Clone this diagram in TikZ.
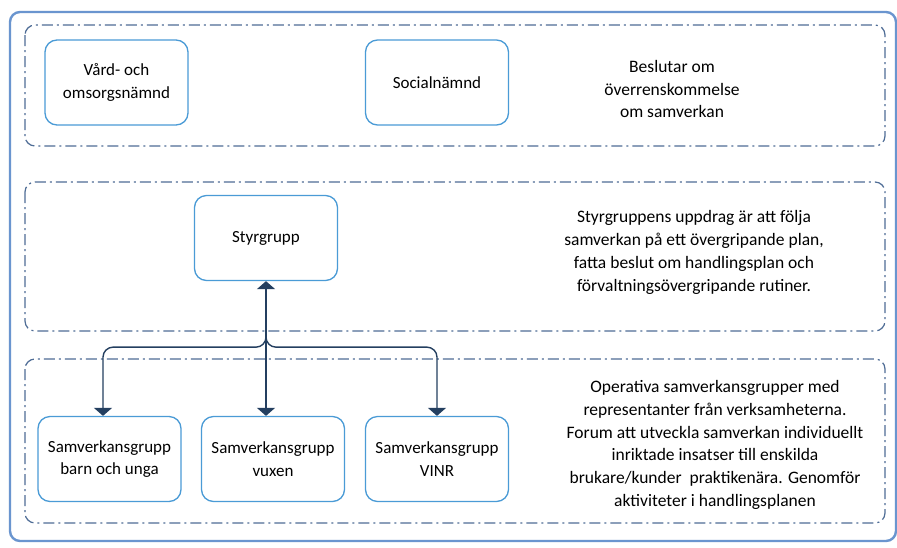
\documentclass[tikz,border=0pt]{standalone}
\usepackage{fontspec}
\setmainfont{Carlito}
\usetikzlibrary{arrows.meta,calc}
\definecolor{nodeblue}{HTML}{4A9BD6}
\definecolor{dashblue}{HTML}{4F6D96}
\definecolor{outerblue}{HTML}{6A95CF}
\definecolor{arrownavy}{HTML}{243F60}
\tikzset{
  unitbox/.style={draw=nodeblue, line width=1.3pt, rounded corners=12pt, fill=white,
    minimum width=143pt, minimum height=85pt, align=center, inner sep=2pt,
    font=\fontsize{17}{22.5}\selectfont},
  grpbox/.style={draw=dashblue, line width=1.2pt, rounded corners=10pt,
    dash pattern=on 11pt off 4pt on 2pt off 4pt},
  desc/.style={align=center, font=\fontsize{17.5}{22.8}\selectfont},
  conn/.style={draw=arrownavy, line width=1.4pt},
  tip/.style={-{Triangle[width=18pt,length=8pt]}},
}
\begin{document}
\begin{tikzpicture}[x=1pt,y=-1pt]
\useasboundingbox (0,0) rectangle (897,547);
\fill[white] (0,0) rectangle (897,547);
% outer frame
\draw[draw=outerblue, line width=2.4pt, rounded corners=10pt] (10,12) rectangle (896,541);
% group frames
\draw[grpbox] (25,25) rectangle (885,146);
\draw[grpbox] (25,182) rectangle (885,331);
\draw[grpbox] (25,359) rectangle (885,523);
% top row
\node[unitbox] (vard) at (116.5,82.5) {Vård- och\\omsorgsnämnd};
\node[unitbox] (social) at (437,82.5) {Socialnämnd};
\node[desc] (beslut) at (672,89) {Beslutar om\\överrenskommelse\\om samverkan};
% middle row
\node[unitbox] (styr) at (266,238) {Styrgrupp};
\node[desc] (styrtext) at (694,252.5) {Styrgruppens uppdrag är att följa\\samverkan på ett övergripande plan,\\fatta beslut om handlingsplan och\\förvaltningsövergripande rutiner.};
% bottom row
\node[unitbox] (sb) at (109.5,459) {Samverkansgrupp\\barn och unga};
\node[unitbox] (sv) at (273,459) {Samverkansgrupp\\vuxen};
\node[unitbox] (svinr) at (437,459) {Samverkansgrupp\\VINR};
\node[desc] (optext) at (715,445) {Operativa samverkansgrupper med\\representanter från verksamheterna.\\Forum att utveckla samverkan individuellt\\inriktade insatser till enskilda\\brukare/kunder\ \ praktikenära. Genomför\\aktiviteter i handlingsplanen};
% connectors
\coordinate (trunktop) at ($(styr.south)+(0,56)$);
\coordinate (bus) at ($(styr.south)+(0,66)$);
\draw[conn, {Triangle[width=18pt,length=8pt]}-{Triangle[width=18pt,length=8pt]}] (styr.south) -- (styr.south |- sv.north);
\draw[conn, tip, rounded corners=10pt] (trunktop) -- (bus) -- (bus -| 103,0) -- (103,0 |- sb.north);
\draw[conn, tip, rounded corners=10pt] (trunktop) -- (bus) -- (bus -| 437,0) -- (437,0 |- svinr.north);
\end{tikzpicture}
\end{document}
